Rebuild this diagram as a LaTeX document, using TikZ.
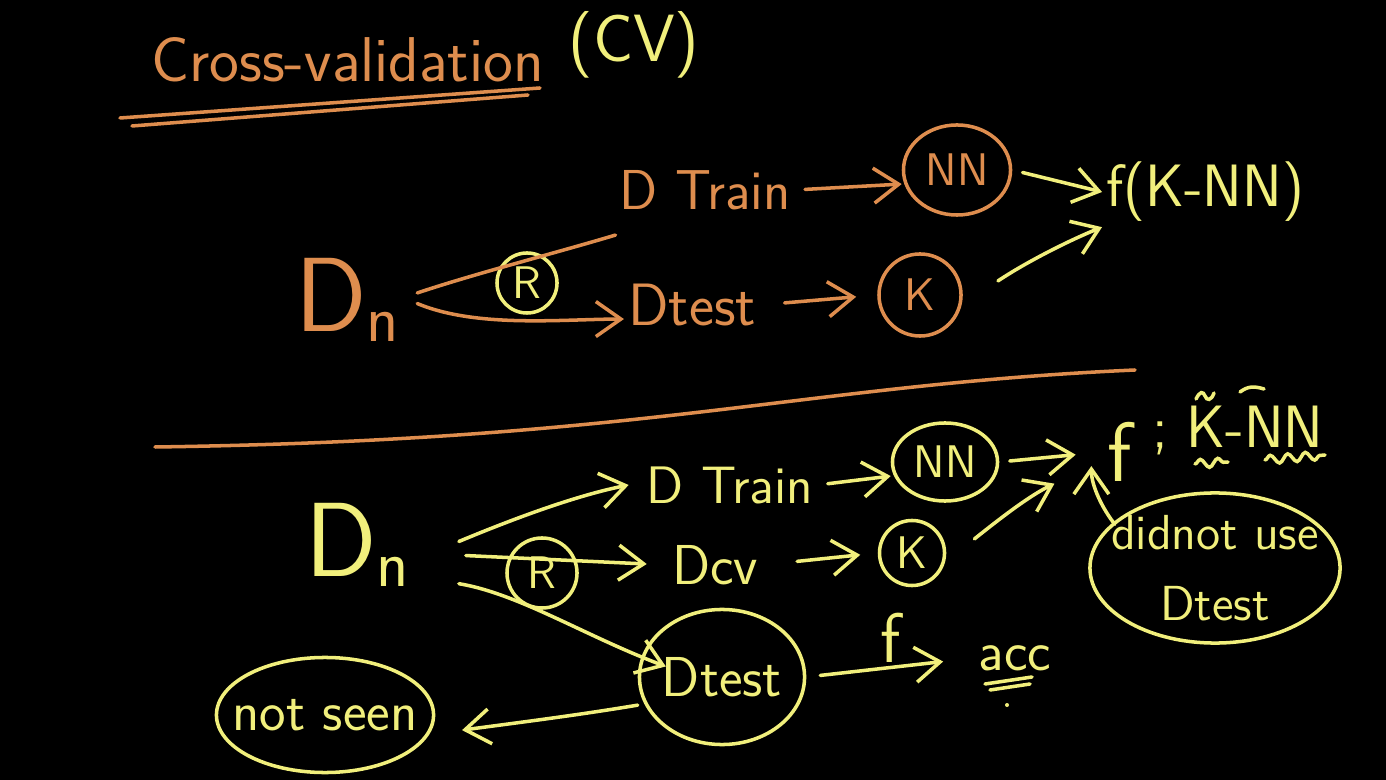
\documentclass[tikz,border=0pt]{standalone}
\usepackage{fontspec}
\usetikzlibrary{shapes.geometric,arrows.meta,decorations.pathmorphing,positioning}
\definecolor{chalkOrange}{HTML}{DE8D4E}
\definecolor{chalkYellow}{HTML}{F1EF7C}
\tikzset{
  hand/.style={font=\sffamily\fontsize{16}{19}\selectfont, inner sep=1pt},
  bigD/.style={font=\sffamily\fontsize{30}{34}\selectfont, inner sep=1pt},
  ring/.style={draw, circle, line width=1pt, inner sep=0pt, font=\sffamily\fontsize{13}{15}\selectfont},
  blob/.style={draw, ellipse, line width=1pt, inner sep=0pt, font=\sffamily\fontsize{13}{15}\selectfont},
  stroke/.style={line width=1pt, line cap=round},
  arr/.style={stroke, -{Straight Barb[length=2.5mm,width=3.5mm]}},
  squiggle/.style={stroke, decorate, decoration={snake, amplitude=1.2pt, segment length=5pt}}
}
\newcommand{\subn}{{\fontsize{19}{21}\selectfont\raisebox{-3pt}{n}}}

\begin{document}
\begin{tikzpicture}[x=0.01cm,y=-0.01cm]
    \fill[black] (0,0) rectangle (1386,780);

    % title
    \node[hand, text=chalkOrange, anchor=west, font=\sffamily\fontsize{18}{21}\selectfont] (title) at (147,60) {Cross-validation};
    \node[hand, text=chalkYellow, font=\sffamily\fontsize{19}{22}\selectfont] (cv) at (634,45) {(CV)};
    \draw[stroke, chalkOrange] (120,118) -- (540,88);
    \draw[stroke, chalkOrange] (132,126) -- (528,95);

    % upper split
    \node[bigD, text=chalkOrange] (dnTop) at (347,300) {D\subn};
    \node[ring, draw=chalkYellow, text=chalkYellow, minimum size=0.6cm] (rTop) at (527,283) {R};
    \node[hand, text=chalkOrange] (trainTop) at (705,190) {D Train};
    \node[hand, text=chalkOrange, font=\sffamily\fontsize{17}{20}\selectfont] (testTop) at (692,305) {Dtest};
    \node[blob, draw=chalkOrange, text=chalkOrange, minimum width=1.07cm, minimum height=0.9cm] (nnTop) at (957,170) {NN};
    \node[ring, draw=chalkOrange, text=chalkOrange, minimum size=0.82cm] (kTop) at (920,295) {K};
    \node[hand, text=chalkYellow, font=\sffamily\fontsize{17}{20}\selectfont, anchor=west] (fTop) at (1102,192) {f(K-NN)};

    \draw[stroke, chalkOrange] ([shift={(4pt,2pt)}]dnTop.east) .. controls +(60,-20) and +(-60,18) .. ([yshift=-6pt]trainTop.south west);
    \draw[arr, chalkOrange] ([shift={(4pt,-1pt)}]dnTop.east) .. controls +(60,25) and +(-60,0) .. ([yshift=-4pt]testTop.west);
    \draw[arr, chalkOrange, shorten <=3pt] (trainTop.east) -- ([yshift=-4pt]nnTop.west);
    \draw[arr, chalkOrange, shorten <=7pt, shorten >=6pt] (testTop.east) -- (kTop.west);
    \draw[arr, chalkYellow, shorten <=3pt] (nnTop.east) -- (fTop.west);
    \draw[arr, chalkYellow] ([shift={(10pt,4pt)}]kTop.east) .. controls +(30,-20) and +(-30,12) .. ([yshift=-10pt]fTop.west);

    % separator
    \draw[stroke, chalkOrange] (155,447) .. controls (650,440) and (800,385) .. (1135,370);

    % lower split
    \node[bigD, text=chalkYellow] (dnLow) at (357,545) {D\subn};
    \node[ring, draw=chalkYellow, text=chalkYellow, minimum size=0.7cm] (rLow) at (542,573) {R};
    \node[hand, text=chalkYellow, font=\sffamily\fontsize{15}{18}\selectfont] (trainLow) at (730,485) {D Train};
    \node[hand, text=chalkYellow] (cvLow) at (715,565) {Dcv};
    \node[blob, draw=chalkYellow, minimum width=1.65cm, minimum height=1.35cm,
          label={[hand, text=chalkYellow]center:Dtest}] (testLow) at (722,677) {};
    \node[blob, draw=chalkYellow, text=chalkYellow, minimum width=1.05cm, minimum height=0.78cm] (nnLow) at (945,462) {NN};
    \node[ring, draw=chalkYellow, text=chalkYellow, minimum size=0.65cm] (kLow) at (912,553) {K};
    \node[hand, text=chalkYellow, font=\sffamily\fontsize{24}{26}\selectfont] (fLow) at (1120,452) {f};
    \node[hand, text=chalkYellow, font=\sffamily\fontsize{17}{20}\selectfont, anchor=west] (knnLow) at (1148,430) {; K-NN};
    \node[blob, draw=chalkYellow, minimum width=2.5cm, minimum height=1.5cm,
          label={[hand, text=chalkYellow, align=center, font=\sffamily\fontsize{14}{20}\selectfont]center:didnot use\\Dtest}] (useLow) at (1215,568) {};
    \node[hand, text=chalkYellow] (accLow) at (1015,658) {acc};
    \node[blob, draw=chalkYellow, minimum width=2.17cm, minimum height=1.15cm,
          label={[hand, text=chalkYellow]center:not seen}] (unseenLow) at (325,715) {};

    \draw[arr, chalkYellow] ([shift={(13pt,1pt)}]dnLow.east) .. controls +(60,-25) and +(-50,10) .. ([xshift=-4pt]trainLow.west);
    \draw[arr, chalkYellow, shorten >=6pt] ([shift={(15pt,-3pt)}]dnLow.east) -- (cvLow.west);
    \draw[arr, chalkYellow] ([shift={(13pt,-11pt)}]dnLow.east) .. controls +(60,10) and +(-80,-30) .. ([shift={(8pt,3pt)}]testLow.west);
    \draw[arr, chalkYellow, shorten <=3pt] (trainLow.east) -- ([yshift=-4pt]nnLow.west);
    \draw[arr, chalkYellow, shorten <=3pt, shorten >=8pt] (nnLow.east) -- (fLow.west);
    \draw[arr, chalkYellow, shorten <=10pt, shorten >=5pt] (cvLow.east) -- (kLow.west);
    \draw[arr, chalkYellow] ([shift={(8pt,4pt)}]kLow.east) .. controls +(25,-20) and +(-25,12) .. ([shift={(-14pt,-9pt)}]fLow.west);
    \draw[arr, chalkYellow] ([shift={(-3pt,-3pt)}]useLow.north west) .. controls +(-12,-15) and +(0,20) .. ([shift={(-3.5pt,-4pt)}]fLow.west);
    \draw[arr, chalkYellow, shorten <=4pt, shorten >=9pt] (testLow.east) -- node[hand, above, font=\sffamily\fontsize{20}{22}\selectfont] (fArrow) {f} (accLow.west);
    \draw[arr, chalkYellow] ([yshift=-8pt]testLow.west) .. controls +(-60,10) and +(60,-8) .. ([shift={(7.6pt,-4.3pt)}]unseenLow.east);

    % marks
    \draw[stroke, chalkYellow] (985,684) -- (1032,677);
    \draw[stroke, chalkYellow] (990,690) -- (1030,684);
    \fill[chalkYellow] (1007,705) circle (2);
    \draw[squiggle, chalkYellow] (1195,464) -- (1228,462);
    \draw[squiggle, chalkYellow] (1265,460) -- (1325,455);
    \draw[stroke, chalkYellow] (1196,399) .. controls (1200,391) and (1203,391) .. (1205,396) .. controls (1207,401) and (1211,401) .. (1214,393);
    \draw[stroke, chalkYellow] (1240,392) .. controls (1248,386) and (1254,386) .. (1264,389);
\end{tikzpicture}
\end{document}
